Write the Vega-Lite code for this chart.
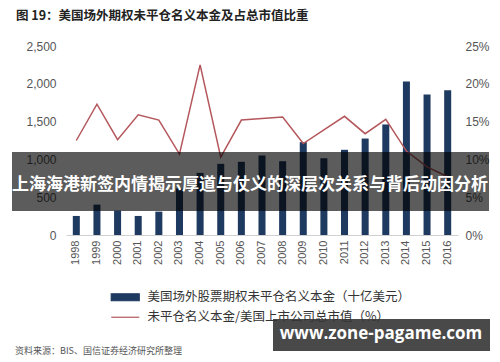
{
  "$schema": "https://vega.github.io/schema/vega-lite/v6.json",
  "autosize": "none",
  "width": 392,
  "height": 189,
  "padding": {"left": 66, "top": 46, "right": 42, "bottom": 127},
  "background": "white",
  "config": {"view": {"stroke": null}},
  "title": {
    "text": "图 19：美国场外期权未平仓名义本金及占总市值比重",
    "anchor": "start",
    "frame": "group",
    "dx": -50,
    "offset": 18,
    "font": "Noto Sans CJK SC",
    "fontSize": 12.5,
    "fontWeight": "bold",
    "color": "#222"
  },
  "data": {
    "values": [
      {"year": "1998", "notional": 252, "pct": 12.5},
      {"year": "1999", "notional": 402, "pct": 17.3},
      {"year": "2000", "notional": 322, "pct": 12.6},
      {"year": "2001", "notional": 252, "pct": 15.9},
      {"year": "2002", "notional": 309, "pct": 15.2},
      {"year": "2003", "notional": 615, "pct": 10.7},
      {"year": "2004", "notional": 822, "pct": 22.5},
      {"year": "2005", "notional": 941, "pct": 10.3},
      {"year": "2006", "notional": 968, "pct": 15.2},
      {"year": "2007", "notional": 1052, "pct": 15.4},
      {"year": "2008", "notional": 976, "pct": 15.6},
      {"year": "2009", "notional": 1228, "pct": 12.1},
      {"year": "2010", "notional": 1016, "pct": 13.9},
      {"year": "2011", "notional": 1127, "pct": 15.7},
      {"year": "2012", "notional": 1276, "pct": 13.4},
      {"year": "2013", "notional": 1462, "pct": 15.3},
      {"year": "2014", "notional": 2029, "pct": 11.1},
      {"year": "2015", "notional": 1857, "pct": 9.0},
      {"year": "2016", "notional": 1914, "pct": 7.7}
    ]
  },
  "layer": [
    {
      "mark": {"type": "bar", "color": "#1f3a60"},
      "encoding": {
        "x": {
          "field": "year",
          "type": "ordinal",
          "scale": {"paddingInner": 0.66, "paddingOuter": 0.33},
          "axis": {
            "title": null,
            "labelAngle": -90,
            "labelFont": "Liberation Sans",
            "labelFontSize": 11,
            "labelColor": "#555",
            "labelPadding": 5,
            "ticks": false,
            "domainColor": "#d0d0d0",
            "domainWidth": 1
          }
        },
        "y": {
          "field": "notional",
          "type": "quantitative",
          "scale": {"domain": [0, 2500]},
          "axis": {
            "title": null,
            "orient": "left",
            "values": [0, 500, 1000, 1500, 2000, 2500],
            "format": ",.0f",
            "domain": false,
            "ticks": false,
            "grid": false,
            "labelFont": "Liberation Sans",
            "labelFontSize": 12,
            "labelColor": "#555",
            "labelPadding": 10
          }
        },
        "color": {
          "datum": "美国场外股票期权未平仓名义本金（十亿美元）",
          "type": "nominal",
          "scale": {
            "domain": ["美国场外股票期权未平仓名义本金（十亿美元）", "未平仓名义本金/美国上市公司总市值（%）"],
            "range": ["#1f3a60", "#b4575c"]
          },
          "legend": {
            "orient": "none",
            "legendX": 53,
            "legendY": 245,
            "direction": "vertical",
            "title": null,
            "symbolSize": 100,
            "labelOffset": 16,
            "rowPadding": 7,
            "labelFont": "Noto Sans CJK SC",
            "labelFontSize": 12.5,
            "labelColor": "#333",
            "labelLimit": 400,
            "encode": {
              "symbols": {
                "update": {
                  "shape": {"signal": "datum.value === '美国场外股票期权未平仓名义本金（十亿美元）' ? 'M-2.8,-0.7H2.8V0.7H-2.8Z' : 'M-2.8,0H2.8'"},
                  "fill": {"signal": "datum.value === '美国场外股票期权未平仓名义本金（十亿美元）' ? '#1f3a60' : 'transparent'"},
                  "stroke": {"signal": "datum.value === '美国场外股票期权未平仓名义本金（十亿美元）' ? '#1f3a60' : '#b4575c'"},
                  "strokeWidth": {"value": 1.2},
                  "opacity": {"value": 1}
                }
              }
            }
          }
        }
      }
    },
    {
      "mark": {"type": "line", "strokeWidth": 1.5},
      "encoding": {
        "x": {"field": "year", "type": "ordinal"},
        "y": {
          "field": "pct",
          "type": "quantitative",
          "scale": {"domain": [0, 25]},
          "axis": {
            "title": null,
            "orient": "right",
            "values": [0, 5, 10, 15, 20, 25],
            "labelExpr": "datum.value + '%'",
            "domain": false,
            "ticks": false,
            "grid": false,
            "labelFont": "Liberation Sans",
            "labelFontSize": 12,
            "labelColor": "#555",
            "labelPadding": 7
          }
        },
        "color": {"datum": "未平仓名义本金/美国上市公司总市值（%）", "type": "nominal"}
      }
    },
    {
      "data": {"values": [{}]},
      "mark": {"type": "rule", "x": -58, "x2": 434, "y": -43, "stroke": "#9a9a9a", "strokeWidth": 2.5},
      "encoding": {}
    },
    {
      "data": {"values": [{}]},
      "mark": {"type": "rule", "x": -58, "x2": 434, "y": -18, "stroke": "#707070", "strokeWidth": 1.5},
      "encoding": {}
    },
    {
      "data": {"values": [{}]},
      "mark": {"type": "rule", "x": -58, "x2": 434, "y": 286, "stroke": "#707070", "strokeWidth": 1.2},
      "encoding": {}
    },
    {
      "data": {"values": [{}]},
      "mark": {"type": "text", "x": -51, "y": 305, "align": "left", "baseline": "middle", "text": "资料来源：BIS、国信证券经济研究所整理", "font": "Noto Sans CJK SC", "fontSize": 9, "color": "#555"},
      "encoding": {}
    },
    {
      "data": {"values": [{}]},
      "mark": {"type": "rect", "x": -54, "x2": 423, "y": 106, "y2": 165, "fill": "#000", "opacity": 0.64},
      "encoding": {}
    },
    {
      "data": {"values": [{}]},
      "mark": {"type": "text", "x": 184, "y": 139, "align": "center", "baseline": "middle", "text": "上海海港新签内情揭示厚道与仗义的深层次关系与背后动因分析", "font": "Noto Sans CJK SC", "fontSize": 17, "fontWeight": "bold", "color": "#ffffff"},
      "encoding": {}
    },
    {
      "data": {"values": [{}]},
      "mark": {"type": "rect", "x": 207, "x2": 424, "y": 273, "y2": 305, "fill": "#3a3a3a", "opacity": 0.92},
      "encoding": {}
    },
    {
      "data": {"values": [{}]},
      "mark": {"type": "text", "x": 315, "y": 288, "align": "center", "baseline": "middle", "text": "www.zone-pagame.com", "font": "Open Sans", "fontSize": 17, "fontWeight": "bold", "color": "#ffffff"},
      "encoding": {}
    }
  ],
  "resolve": {"scale": {"y": "independent"}}
}
